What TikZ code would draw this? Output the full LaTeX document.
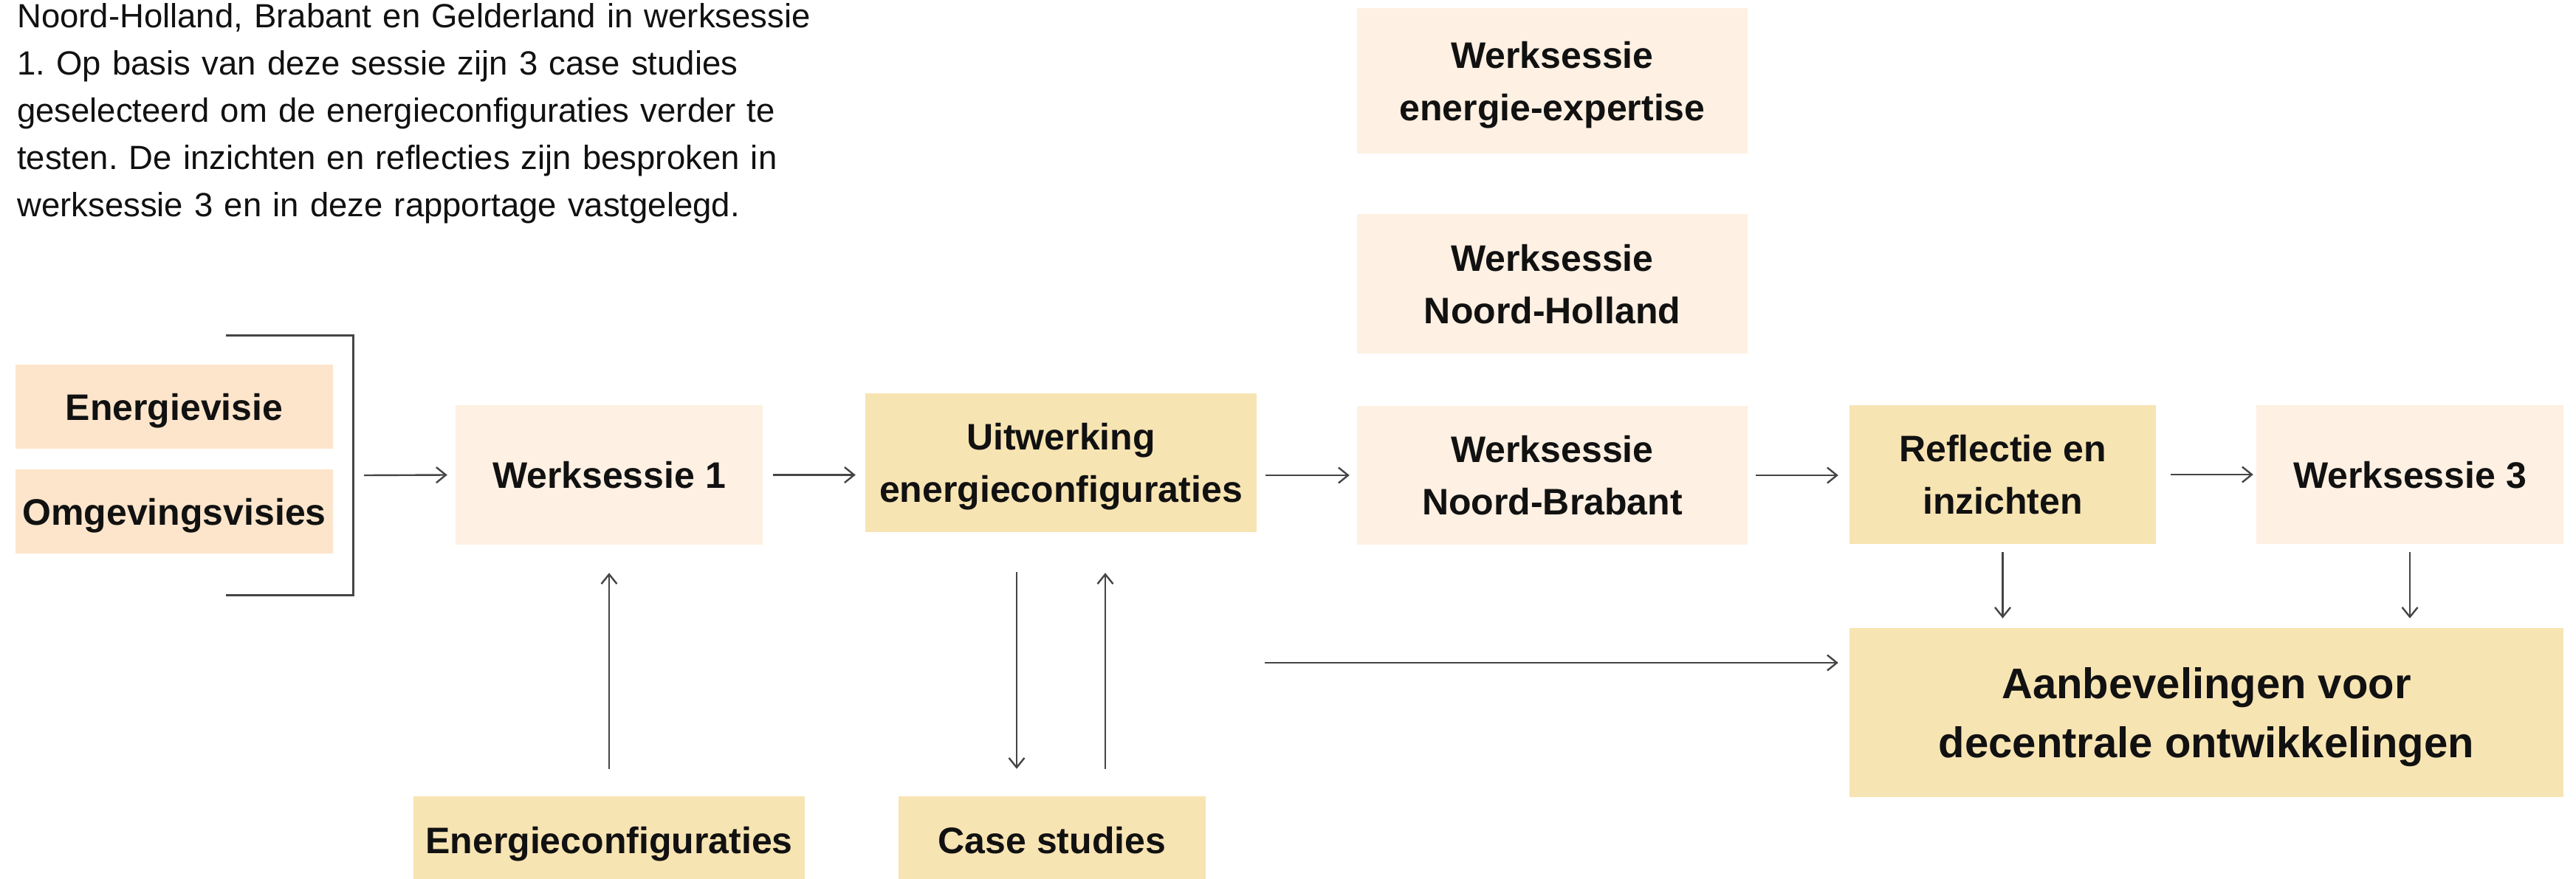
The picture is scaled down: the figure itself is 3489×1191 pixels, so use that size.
\documentclass[tikz,border=0pt]{standalone}
\usepackage{fontspec}
\setmainfont{Liberation Sans}
\usetikzlibrary{arrows.meta}
\definecolor{peach}{HTML}{FDE5CB}
\definecolor{cream}{HTML}{FEF0E2}
\definecolor{sand}{HTML}{F7E4B3}
\definecolor{ink}{HTML}{454545}
\definecolor{txt}{HTML}{111111}
\frenchspacing
\begin{document}
\begin{tikzpicture}[x=1pt,y=-1pt,
  box/.style={rectangle, inner sep=0pt, draw=none, align=center, text=txt,
    font=\fontsize{50}{71}\selectfont\bfseries, text depth=0pt},
  bigbox/.style={box, font=\fontsize{58}{80}\selectfont\bfseries},
  arr/.style={draw=ink, line width=2.4pt, -{Straight Barb[length=13pt,width=21pt,line width=2.4pt]}},
  brk/.style={draw=ink, line width=3pt}
]
\useasboundingbox (0,0) rectangle (3489,1191);

% paragraph
\node[anchor=base west, inner sep=0pt, text width=1300pt, align=left, text=txt,
  font=\fontsize{45.5}{64}\selectfont\frenchspacing] (para) at (23,37)
  {Noord-Holland, Brabant en Gelderland in werksessie\\
   1. Op basis van deze sessie zijn 3 case studies\\
   geselecteerd om de energieconfiguraties verder te\\
   testen. De inzichten en reflecties zijn besproken in\\
   werksessie 3 en in deze rapportage vastgelegd.};

% boxes
\node[box, fill=peach, minimum width=430pt, minimum height=114pt] (ev) at (236,551) {Energievisie};
\node[box, fill=peach, minimum width=430pt, minimum height=114pt] (ov) at (236,693) {Omgevingsvisies};
\node[box, fill=cream, minimum width=416pt, minimum height=189pt] (w1) at (825,643.5) {Werksessie 1};
\node[box, fill=sand, minimum width=530pt, minimum height=188pt] (uit) at (1437,627) {Uitwerking\\energieconfiguraties};
\node[box, fill=cream, minimum width=529pt, minimum height=197pt] (wee) at (2102.5,109.5) {Werksessie\\energie-expertise};
\node[box, fill=cream, minimum width=529pt, minimum height=189pt] (wnh) at (2102.5,384.5) {Werksessie\\Noord-Holland};
\node[box, fill=cream, minimum width=529pt, minimum height=188pt] (wnb) at (2102.5,644) {Werksessie\\Noord-Brabant};
\node[box, fill=sand, minimum width=415pt, minimum height=188pt] (refl) at (2712.5,643) {Reflectie en\\inzichten};
\node[box, fill=cream, minimum width=416pt, minimum height=188pt] (w3) at (3264,643) {Werksessie 3};
\node[bigbox, fill=sand, minimum width=967pt, minimum height=229pt] (aanb) at (2988.5,965.5) {Aanbevelingen voor\\decentrale ontwikkelingen};
\node[box, fill=sand, minimum width=530pt, minimum height=118pt] (ec) at (825,1138) {Energieconfiguraties};
\node[box, fill=sand, minimum width=416pt, minimum height=118pt] (cs) at (1425,1138) {Case studies};

% bracket
\coordinate (bt) at (306,454);
\coordinate (bb) at (306,806);
\coordinate (bm) at (478,644);
\draw[brk] (bt) -- (bt -| bm) -- (bb -| bm) -- (bb);

% arrows
\draw[arr] ([xshift=15pt]bm) -- ([xshift=-11pt]w1.west);
\draw[arr] ([xshift=14pt]w1.east) -- ([xshift=-13pt]w1.east -| uit.west);
\draw[arr] ([xshift=12pt]uit.east |- wnb.west) -- ([xshift=-10pt]wnb.west);
\draw[arr] ([xshift=11pt]wnb.east) -- ([xshift=-15pt]wnb.east -| refl.west);
\draw[arr] ([xshift=20pt]refl.east) -- ([xshift=-4pt]w3.west);
\draw[arr] ([yshift=-11pt]refl.south) -- ([yshift=13pt]refl.south |- aanb.north);
\draw[arr] ([yshift=-11pt]w3.south) -- ([yshift=13pt]w3.south |- aanb.north);
\coordinate (ls) at (1713,898);
\draw[arr] (ls) -- ([xshift=-15pt]ls -| aanb.west);
\draw[arr] ([xshift=-60pt,yshift=-54pt]uit.south) -- ([xshift=-60pt,yshift=37pt]uit.south |- cs.north);
\draw[arr] ([xshift=60pt,yshift=37pt]uit.south |- cs.north) -- ([xshift=60pt,yshift=-55pt]uit.south);
\draw[arr] ([yshift=37pt]ec.north) -- ([yshift=-38pt]w1.south);
\end{tikzpicture}
\end{document}
